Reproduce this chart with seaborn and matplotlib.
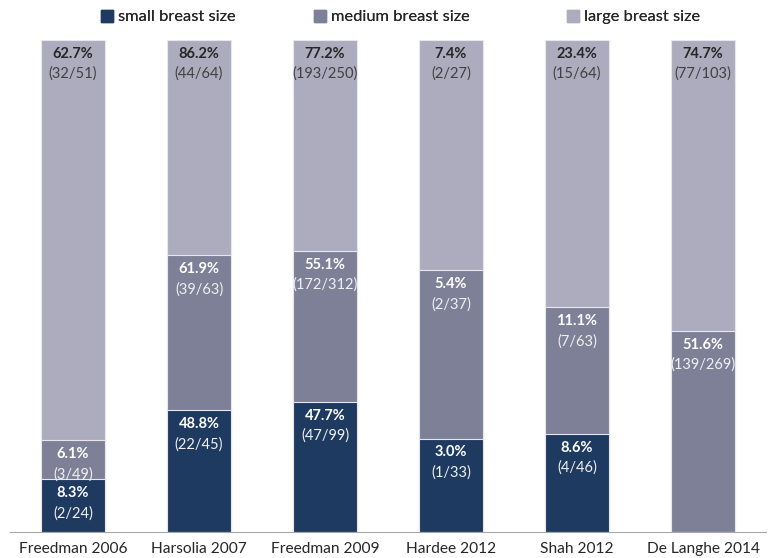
import numpy as np
import matplotlib.pyplot as plt
import seaborn as sns
from matplotlib.patches import Patch

## Study names and the three groups
studies = ["Freedman 2006", "Harsolia 2007", "Freedman 2009",
           "Hardee 2012", "Shah 2012", "De Langhe 2014"]
groups = ["small breast size", "medium breast size", "large breast size"]

## Percentages per group (0 = no data)
small_pct = [8.3, 48.8, 47.7, 3.0, 8.6, 0.0]
medium_pct = [6.1, 61.9, 55.1, 5.4, 11.1, 51.6]
large_pct = [62.7, 86.2, 77.2, 7.4, 23.4, 74.7]

## Counts shown under the percentages
small_frac = ["2/24", "22/45", "47/99", "1/33", "4/46", None]
medium_frac = ["3/49", "39/63", "172/312", "2/37", "7/63", "139/269"]
large_frac = ["32/51", "44/64", "193/250", "2/27", "15/64", "77/103"]

colors = ["#1f3a60", "#7e8098", "#adacbe"]

## Bars are 100% stacked: each segment is its share of the summed percentages
pcts = np.array([small_pct, medium_pct, large_pct])
shares = pcts / pcts.sum(axis=0)
cum = np.cumsum(shares, axis=0)

plt.rcParams['font.family'] = ['Lato', 'DejaVu Sans']
fig = plt.figure(figsize=(7.72, 5.58), dpi=100)
ax = fig.add_axes([10 / 772, 26 / 558, 756 / 772, 492 / 558])

## draw the tallest cumulative first so the lower pieces sit on top
for i in [2, 1, 0]:
    sns.barplot(x=studies, y=cum[i], color=colors[i], width=0.51,
                edgecolor="#e6e6ec", linewidth=0.8, saturation=1, ax=ax)

fracs = [small_frac, medium_frac, large_frac]
for i in range(3):
    txt_col = "white" if i < 2 else "#262626"
    frac_col = "#f0f0f0" if i < 2 else "#404040"
    for j in range(len(studies)):
        if pcts[i, j] == 0:
            continue
        ax.annotate(f"{pcts[i, j]:.1f}%", (j, cum[i, j]), xytext=(0, -10),
                    textcoords="offset points", ha="center", va="center",
                    fontsize=10.5, fontweight="bold", color=txt_col)
        ax.annotate(f"({fracs[i][j]})", (j, cum[i, j]), xytext=(0, -24.5),
                    textcoords="offset points", ha="center", va="center",
                    fontsize=10.5, color=frac_col)

ax.set_xlim(-0.5, 5.5)
ax.set_ylim(0, 1)
ax.set_yticks([])
ax.set_ylabel("")
for s in ["top", "left", "right"]:
    ax.spines[s].set_visible(False)
ax.spines["bottom"].set_color("#a6a6a6")
ax.tick_params(axis="x", length=0, labelsize=11.2, colors="#262626", pad=7)

## one legend per entry, spaced like the original
leg_x = [101, 314, 567]
for c, g, x in zip(colors, groups, leg_x):
    lg = fig.legend([Patch(color=c)], [g], loc="center left",
                    bbox_to_anchor=(x / 772, 1 - 17 / 558), frameon=False,
                    fontsize=11.8, handlelength=0.75, handleheight=0.75,
                    handletextpad=0.3, borderpad=0, borderaxespad=0,
                    labelcolor="#262626")
    fig.add_artist(lg)

fig.savefig("out.png", dpi=100)
